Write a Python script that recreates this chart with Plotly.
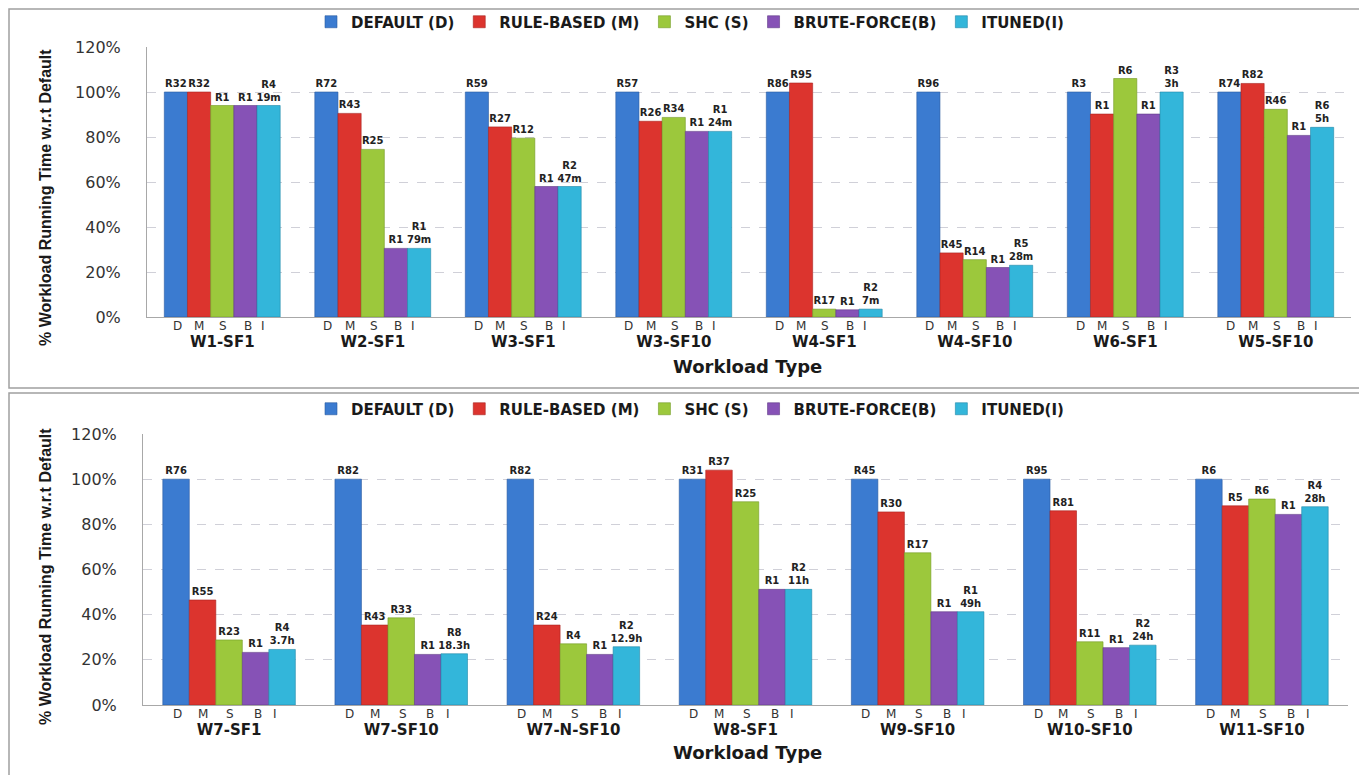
import plotly.graph_objects as go

# ---------------- data ----------------
series_names = ["DEFAULT (D)", "RULE-BASED (M)", "SHC (S)", "BRUTE-FORCE(B)", "ITUNED(I)"]
series_letters = ["D", "M", "S", "B", "I"]
series_colors = ["#3b7bd0", "#dc342e", "#9cc83c", "#8652b6", "#33b6da"]
series_edges = ["#2a5aa0", "#a82420", "#739a26", "#5f3a86", "#2288a8"]

groups_top = ["W1-SF1", "W2-SF1", "W3-SF1", "W3-SF10", "W4-SF1", "W4-SF10", "W6-SF1", "W5-SF10"]
default_top = [100, 100, 100, 100, 100, 100, 100, 100]
rule_top = [100, 90.5, 84.5, 87, 104, 28.5, 90.2, 103.8]
shc_top = [94, 74.5, 79.5, 88.7, 3.5, 25.5, 106, 92.3]
brute_top = [94, 30.5, 58, 82.5, 3.2, 22, 90.2, 80.7]
ituned_top = [94, 30.5, 58, 82.5, 3.5, 23, 100, 84.3]

labels_default_top = ["R32", "R72", "R59", "R57", "R86", "R96", "R3", "R74"]
labels_rule_top = ["R32", "R43", "R27", "R26", "R95", "R45", "R1", "R82"]
labels_shc_top = ["R1", "R25", "R12", "R34", "R17", "R14", "R6", "R46"]
labels_brute_top = ["R1", "R1", "R1", "R1", "R1", "R1", "R1", "R1"]
labels_ituned_top = ["R4<br>19m", "R1<br>79m", "R2<br>47m", "R1<br>24m", "R2<br>7m", "R5<br>28m", "R3<br>3h", "R6<br>5h"]

groups_bot = ["W7-SF1", "W7-SF10", "W7-N-SF10", "W8-SF1", "W9-SF10", "W10-SF10", "W11-SF10"]
default_bot = [100, 100, 100, 100, 100, 100, 100]
rule_bot = [46.5, 35.4, 35.4, 104, 85.5, 86, 88.2]
shc_bot = [28.8, 38.6, 27.1, 90, 67.4, 28, 91.2]
brute_bot = [23.3, 22.4, 22.4, 51.2, 41.3, 25.4, 84.4]
ituned_bot = [24.6, 22.7, 25.8, 51.2, 41.3, 26.5, 87.8]

labels_default_bot = ["R76", "R82", "R82", "R31", "R45", "R95", "R6"]
labels_rule_bot = ["R55", "R43", "R24", "R37", "R30", "R81", "R5"]
labels_shc_bot = ["R23", "R33", "R4", "R25", "R17", "R11", "R6"]
labels_brute_bot = ["R1", "R1", "R1", "R1", "R1", "R1", "R1"]
labels_ituned_bot = ["R4<br>3.7h", "R8<br>18.3h", "R2<br>12.9h", "R2<br>11h", "R1<br>49h", "R2<br>24h", "R4<br>28h"]

y_ticks = [0, 20, 40, 60, 80, 100, 120]
y_ticktext = [f"{v}%" for v in y_ticks]
y_title = "% Workload Running Time w.r.t Default"
x_title = "Workload Type"
letter_offsets = [-1.95, -1.0, 0.05, 1.1, 1.75]  # letter placement, in bar widths

# ---------------- layout constants ----------------
OFF = 8  # page body margin
W, H = 1367 - OFF, 775 - OFF


def PX(x):
    return (x - OFF) / W


def PY(y):
    return 1 - (y - OFF) / H


BARGAP = 0.23
top_xdom = [PX(147), PX(1351)]
top_ydom = [PY(317), PY(47)]
bot_xdom = [PX(143), PX(1348)]
bot_ydom = [PY(705), PY(434)]

fig = go.Figure()

top_vals = [default_top, rule_top, shc_top, brute_top, ituned_top]
top_labs = [labels_default_top, labels_rule_top, labels_shc_top, labels_brute_top, labels_ituned_top]
bot_vals = [default_bot, rule_bot, shc_bot, brute_bot, ituned_bot]
bot_labs = [labels_default_bot, labels_rule_bot, labels_shc_bot, labels_brute_bot, labels_ituned_bot]

label_font = dict(family="DejaVu Sans", size=10, color="#222222", weight="bold")

for i, name in enumerate(series_names):
    fig.add_trace(go.Bar(
        x=groups_top, y=top_vals[i], name=name, text=top_labs[i],
        textposition="outside", constraintext="none", cliponaxis=False,
        textfont=label_font,
        marker=dict(color=series_colors[i], line=dict(color=series_edges[i], width=0.6)),
        xaxis="x", yaxis="y", legend="legend",
    ))
for i, name in enumerate(series_names):
    fig.add_trace(go.Bar(
        x=groups_bot, y=bot_vals[i], name=name, text=bot_labs[i],
        textposition="outside", constraintext="none", cliponaxis=False,
        textfont=label_font,
        marker=dict(color=series_colors[i], line=dict(color=series_edges[i], width=0.6)),
        xaxis="x2", yaxis="y2", legend="legend2",
    ))

axis_common_y = dict(
    range=[0, 120], tickmode="array", tickvals=y_ticks, ticktext=y_ticktext,
    tickfont=dict(family="DejaVu Sans", size=16, color="#333333"),
    showgrid=True, gridcolor="#d0d0d8", griddash="dash", gridwidth=1,
    showline=True, linecolor="#a8a8a8", linewidth=1, zeroline=False,
    ticks="", ticklabelstandoff=22, automargin=False,
)
axis_common_x = dict(
    type="category", showline=True, linecolor="#a8a8a8", linewidth=1.2,
    ticks="", showgrid=False, automargin=False,
    tickfont=dict(family="DejaVu Sans", size=15, color="#1a1a1a", weight="bold"),
    ticklabelstandoff=11,
)

legend_font = dict(family="DejaVu Sans", size=15, color="#1a1a1a", weight="bold")

fig.update_layout(
    width=W, height=H, autosize=False,
    margin=dict(l=0, r=0, t=0, b=0, pad=0, autoexpand=False),
    paper_bgcolor="white", plot_bgcolor="white",
    barmode="group", bargap=BARGAP, bargroupgap=0,
    xaxis=dict(domain=top_xdom, anchor="y", **axis_common_x),
    yaxis=dict(domain=top_ydom, anchor="x", **axis_common_y),
    xaxis2=dict(domain=bot_xdom, anchor="y2", **axis_common_x),
    yaxis2=dict(domain=bot_ydom, anchor="x2", **axis_common_y),
    legend=dict(orientation="h", x=PX(690), xanchor="center", y=PY(22), yanchor="middle",
                font=legend_font, itemwidth=30, bgcolor="rgba(0,0,0,0)", traceorder="normal"),
    legend2=dict(orientation="h", x=PX(690), xanchor="center", y=PY(409), yanchor="middle",
                 font=legend_font, itemwidth=30, bgcolor="rgba(0,0,0,0)", traceorder="normal"),
    showlegend=True,
)

# panel borders
fig.add_shape(type="rect", xref="paper", yref="paper", x0=PX(9), x1=PX(1364),
              y0=PY(388), y1=PY(9), line=dict(color="#a0a0a0", width=1.5), layer="below")
fig.add_shape(type="rect", xref="paper", yref="paper", x0=PX(9), x1=PX(1364),
              y0=-0.02, y1=PY(393), line=dict(color="#a0a0a0", width=1.5), layer="below")


# letters D M S B I under each group
def add_letters(groups, xdom, xref, yref):
    n = len(groups)
    cat_px = (xdom[1] - xdom[0]) * W / n
    bar_px = cat_px * (1 - BARGAP) / len(series_letters)
    for g in groups:
        for k, letter in enumerate(series_letters):
            fig.add_annotation(
                x=g, y=0, xref=xref, yref=yref, text=letter, showarrow=False,
                xanchor="center", yanchor="top", yshift=-1, borderpad=0,
                xshift=letter_offsets[k] * bar_px,
                font=dict(family="DejaVu Sans", size=12, color="#333333"),
            )


add_letters(groups_top, top_xdom, "x", "y")
add_letters(groups_bot, bot_xdom, "x2", "y2")

# y titles
for yc in [PY(198), PY(577)]:
    fig.add_annotation(
        x=PX(45), y=yc, xref="paper", yref="paper", text=y_title, textangle=-90,
        showarrow=False, xanchor="center", yanchor="middle",
        font=dict(family="Liberation Sans Narrow, Liberation Sans, sans-serif", size=16,
                  color="#1a1a1a", weight="bold"),
    )

# x titles
for yc in [PY(366), PY(752)]:
    fig.add_annotation(
        x=PX(747), y=yc, xref="paper", yref="paper", text=x_title,
        showarrow=False, xanchor="center", yanchor="middle",
        font=dict(family="DejaVu Sans", size=18, color="#1a1a1a", weight="bold"),
    )

fig.write_html("out.html")
